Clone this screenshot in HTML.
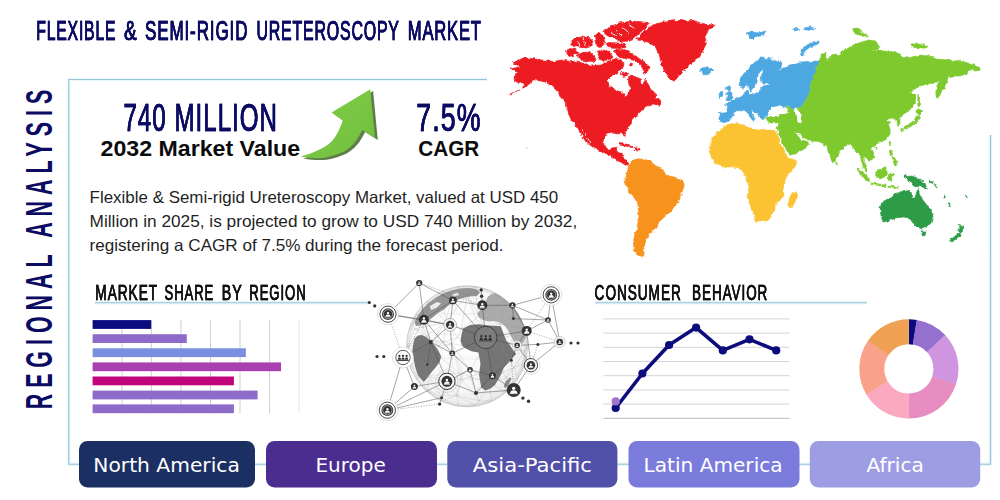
<!DOCTYPE html>
<html lang="en">
<head>
<meta charset="utf-8">
<title>Flexible &amp; Semi-rigid Ureteroscopy Market</title>
<style>
html,body{margin:0;padding:0;background:#fff;}
body{width:1000px;height:500px;overflow:hidden;position:relative;font-family:"Liberation Sans",sans-serif;}
svg{position:absolute;left:0;top:0;display:block;}
.cond{font-family:"Liberation Sans",sans-serif;}
.btn{font-family:"DejaVu Sans","Liberation Sans",sans-serif;font-size:19.6px;fill:#fff;}
.para{font-family:"Liberation Sans",sans-serif;font-size:16.5px;fill:#1f1f1f;}
.bold{font-family:"Liberation Sans",sans-serif;font-weight:700;fill:#0b0b0b;}
</style>
</head>
<body>
<svg width="1000" height="500" viewBox="0 0 1000 500">

<g fill="none" stroke="#e4f5fb" stroke-width="3.4" opacity="0.8">
<path d="M487,79.5 H68.8 V464.3 H79"/>
<path d="M990.5,135 V464.3 H980"/>
<path d="M255,464.3 H266 M437,464.3 H447 M617,464.3 H629 M799,464.3 H810"/>
<path d="M95,302.7 H368"/>
<path d="M595,302.7 H867"/>
</g>
<g fill="none" stroke="#98c4d8" stroke-width="1.1">
<path d="M487,79.5 H68.8 V464.3 H79"/>
<path d="M990.5,135 V464.3 H980"/>
<path d="M255,464.3 H266 M437,464.3 H447 M617,464.3 H629 M799,464.3 H810"/>
<path d="M95,302.7 H368"/>
<path d="M595,302.7 H867"/>
</g>
<g class="cond" font-size="27.8" fill="#0b0b63" stroke="#0b0b63" stroke-width="0.7" letter-spacing="1.4" style="filter:drop-shadow(0.4px 0 0 #0b0b63)">
<text x="36.3" y="39.8" textLength="80" lengthAdjust="spacingAndGlyphs">FLEXIBLE</text>
<text x="124.1" y="39.8" textLength="13.6" lengthAdjust="spacingAndGlyphs">&amp;</text>
<text x="145" y="39.8" textLength="103.3" lengthAdjust="spacingAndGlyphs">SEMI-RIGID</text>
<text x="256.4" y="39.8" textLength="143.4" lengthAdjust="spacingAndGlyphs">URETEROSCOPY</text>
<text x="407.8" y="39.8" textLength="74" lengthAdjust="spacingAndGlyphs">MARKET</text>
</g>
<text class="cond" transform="translate(52.4,409.3) rotate(-90)" font-size="37.6" font-weight="700" fill="#0b0b63" letter-spacing="10.5" textLength="325.5" lengthAdjust="spacingAndGlyphs" x="0" y="0">REGIONAL ANALYSIS</text>
<text class="cond" x="123.4" y="130.6" font-size="38.3" fill="#0b0b63" stroke="#0b0b63" stroke-width="0.6" letter-spacing="1.6" textLength="154.6" style="filter:drop-shadow(0.5px 0 0 #0b0b63)" lengthAdjust="spacingAndGlyphs">740 MILLION</text>
<text class="bold" x="100.6" y="156.4" font-size="22.5" textLength="199.5" lengthAdjust="spacingAndGlyphs">2032 Market Value</text>
<text class="cond" x="416.3" y="130.6" font-size="38.3" fill="#0b0b63" stroke="#0b0b63" stroke-width="0.6" letter-spacing="1.6" textLength="65.5" style="filter:drop-shadow(0.5px 0 0 #0b0b63)" lengthAdjust="spacingAndGlyphs">7.5%</text>
<text class="bold" x="418.3" y="156.4" font-size="22.5" textLength="61" lengthAdjust="spacingAndGlyphs">CAGR</text>
<g>
<defs><linearGradient id="ag" x1="0" y1="0" x2="1" y2="1"><stop offset="0" stop-color="#82d048"/><stop offset="1" stop-color="#6fbd3c"/></linearGradient></defs>
<path d="M300.6,156.5 C309,154.5 325,148.5 331.8,141.3 C336.5,136 340.5,127.5 342.7,120.4 L331.5,112.4 L370.3,89.2 L375,138 L362.3,130 C360,135 357.5,139 354.3,142.9 C350,148 345.5,151.3 339.8,153.3 C332,156.5 325,158.3 319,158.2 C312,158.2 306,157.6 300.6,156.5 Z" fill="#5f7d4b" transform="translate(2.8,1.9)"/>
<path d="M300.6,156.5 C309,154.5 325,148.5 331.8,141.3 C336.5,136 340.5,127.5 342.7,120.4 L331.5,112.4 L370.3,89.2 L375,138 L362.3,130 C360,135 357.5,139 354.3,142.9 C350,148 345.5,151.3 339.8,153.3 C332,156.5 325,158.3 319,158.2 C312,158.2 306,157.6 300.6,156.5 Z" fill="url(#ag)"/>
</g>
<text class="para" x="89.6" y="202.6" textLength="468.6" lengthAdjust="spacingAndGlyphs">Flexible &amp; Semi-rigid Ureteroscopy Market, valued at USD 450</text>
<text class="para" x="89.6" y="226.8" textLength="487.6" lengthAdjust="spacingAndGlyphs">Million in 2025, is projected to grow to USD 740 Million by 2032,</text>
<text class="para" x="89.6" y="250.8" textLength="414" lengthAdjust="spacingAndGlyphs">registering a CAGR of 7.5% during the forecast period.</text>
<g class="cond" font-size="21.3" fill="#111" stroke="#111" stroke-width="0.5" letter-spacing="1.5" style="filter:drop-shadow(0.35px 0 0 #111)">
<text x="95.3" y="299.5" textLength="62.8" lengthAdjust="spacingAndGlyphs">MARKET</text>
<text x="164.6" y="299.5" textLength="49.6" lengthAdjust="spacingAndGlyphs">SHARE</text>
<text x="221.8" y="299.5" textLength="21" lengthAdjust="spacingAndGlyphs">BY</text>
<text x="249.3" y="299.5" textLength="57.3" lengthAdjust="spacingAndGlyphs">REGION</text>
<text x="594.6" y="299.5" textLength="87.2" lengthAdjust="spacingAndGlyphs">CONSUMER</text>
<text x="692.1" y="299.5" textLength="76.2" lengthAdjust="spacingAndGlyphs">BEHAVIOR</text>
</g>
<g>
<line x1="122" y1="320" x2="122" y2="413.2" stroke="#cfcfd4" stroke-width="1"/>
<line x1="151.4" y1="320" x2="151.4" y2="413.2" stroke="#cfcfd4" stroke-width="1"/>
<line x1="181" y1="320" x2="181" y2="413.2" stroke="#cfcfd4" stroke-width="1"/>
<line x1="210.5" y1="320" x2="210.5" y2="413.2" stroke="#cfcfd4" stroke-width="1"/>
<line x1="240" y1="320" x2="240" y2="413.2" stroke="#cfcfd4" stroke-width="1"/>
<line x1="269.6" y1="320" x2="269.6" y2="413.2" stroke="#cfcfd4" stroke-width="1"/>
<line x1="299" y1="320" x2="299" y2="413.2" stroke="#e6e6ea" stroke-width="1"/>
<rect x="92.6" y="320.1" width="58.6" height="8.8" fill="#0b0b80"/>
<rect x="92.6" y="334.2" width="94.2" height="8.8" fill="#8e6bc9"/>
<rect x="92.6" y="348.3" width="153.3" height="8.8" fill="#7b8fe0"/>
<rect x="92.6" y="362.4" width="188.4" height="8.8" fill="#a940b0"/>
<rect x="92.6" y="376.5" width="141.3" height="8.8" fill="#c0047a"/>
<rect x="92.6" y="390.6" width="165.0" height="8.8" fill="#8e6bc9"/>
<rect x="92.6" y="404.4" width="141.3" height="8.8" fill="#8e6bc9"/>
</g>
<g>
<line x1="603.4" y1="318.9" x2="789.4" y2="318.9" stroke="#d4d4d8" stroke-width="1"/>
<line x1="603.4" y1="333.1" x2="789.4" y2="333.1" stroke="#d4d4d8" stroke-width="1"/>
<line x1="603.4" y1="347.3" x2="789.4" y2="347.3" stroke="#d4d4d8" stroke-width="1"/>
<line x1="603.4" y1="361.5" x2="789.4" y2="361.5" stroke="#d4d4d8" stroke-width="1"/>
<line x1="603.4" y1="375.7" x2="789.4" y2="375.7" stroke="#d4d4d8" stroke-width="1"/>
<line x1="603.4" y1="389.9" x2="789.4" y2="389.9" stroke="#d4d4d8" stroke-width="1"/>
<line x1="603.4" y1="404.1" x2="789.4" y2="404.1" stroke="#d4d4d8" stroke-width="1"/>
<line x1="603.4" y1="418.3" x2="789.4" y2="418.3" stroke="#b9b9bf" stroke-width="1"/>
<polyline points="615.7,408 642.4,373.5 669.1,345 696.1,327.6 722.8,350.4 749.5,339.3 776.2,350.4" fill="none" stroke="#0c0c7c" stroke-width="3.6" stroke-linejoin="round" stroke-linecap="round"/>
<circle cx="615.7" cy="408" r="4.1" fill="#0c0c7c"/>
<circle cx="642.4" cy="373.5" r="4.1" fill="#0c0c7c"/>
<circle cx="669.1" cy="345" r="4.1" fill="#0c0c7c"/>
<circle cx="696.1" cy="327.6" r="4.1" fill="#0c0c7c"/>
<circle cx="722.8" cy="350.4" r="4.1" fill="#0c0c7c"/>
<circle cx="749.5" cy="339.3" r="4.1" fill="#0c0c7c"/>
<circle cx="776.2" cy="350.4" r="4.1" fill="#0c0c7c"/>
<circle cx="615.7" cy="401.4" r="4.1" fill="#a274c9"/>
</g>
<g>
<path d="M908.90,319.30 A49.6,49.6 0 0 1 917.00,319.97 L912.92,344.63 A24.6,24.6 0 0 0 908.90,344.30 Z" fill="#0b0b80"/>
<path d="M916.66,319.91 A49.6,49.6 0 0 1 945.41,335.33 L927.01,352.25 A24.6,24.6 0 0 0 912.75,344.60 Z" fill="#9670cf"/>
<path d="M945.18,335.07 A49.6,49.6 0 0 1 955.96,384.56 L932.24,376.66 A24.6,24.6 0 0 0 926.89,352.12 Z" fill="#d095e1"/>
<path d="M956.07,384.23 A49.6,49.6 0 0 1 908.55,418.50 L908.73,393.50 A24.6,24.6 0 0 0 932.30,376.50 Z" fill="#e88dc1"/>
<path d="M908.90,418.50 A49.6,49.6 0 0 1 866.21,394.15 L887.73,381.42 A24.6,24.6 0 0 0 908.90,393.50 Z" fill="#fba9c0"/>
<path d="M866.38,394.45 A49.6,49.6 0 0 1 868.22,340.52 L888.72,354.83 A24.6,24.6 0 0 0 887.81,381.57 Z" fill="#f9a18b"/>
<path d="M868.02,340.81 A49.6,49.6 0 0 1 908.90,319.30 L908.90,344.30 A24.6,24.6 0 0 0 888.63,354.97 Z" fill="#f0a052"/>
</g>
<rect x="79" y="441" width="176.0" height="46.4" rx="8.5" ry="8.5" fill="#1c2f62"/>
<text class="btn" x="93.3" y="472" textLength="146.5" lengthAdjust="spacingAndGlyphs">North America</text>
<rect x="266" y="441" width="171.0" height="46.4" rx="8.5" ry="8.5" fill="#4b2d90"/>
<text class="btn" x="315.4" y="472" textLength="70.4" lengthAdjust="spacingAndGlyphs">Europe</text>
<rect x="447.3" y="441" width="170.1" height="46.4" rx="8.5" ry="8.5" fill="#5150a8"/>
<text class="btn" x="472.8" y="472" textLength="119.2" lengthAdjust="spacingAndGlyphs">Asia-Pacific</text>
<rect x="628.5" y="441" width="171.0" height="46.4" rx="8.5" ry="8.5" fill="#7b7bdc"/>
<text class="btn" x="643.6" y="472" textLength="139" lengthAdjust="spacingAndGlyphs">Latin America</text>
<rect x="809.8" y="441" width="170.4" height="46.4" rx="8.5" ry="8.5" fill="#9d9de4"/>
<text class="btn" x="866.4" y="472" textLength="57.4" lengthAdjust="spacingAndGlyphs">Africa</text>
<defs><filter id="rough" x="-2%" y="-2%" width="104%" height="104%"><feTurbulence type="fractalNoise" baseFrequency="0.22" numOctaves="3" seed="4" result="n"/><feDisplacementMap in="SourceGraphic" in2="n" scale="4" xChannelSelector="R" yChannelSelector="G"/></filter></defs>
<g id="worldmap" filter="url(#rough)">
<!-- North America -->
<path d="M511.0,69.0 L515.5,67.8 L520.0,66.2 L516.0,64.5 L513.0,63.0 L517.0,60.5 L521.0,58.5 L525.0,57.5 L535.0,59.0 L545.0,60.5 L554.0,61.5 L559.0,60.3 L564.0,60.0 L570.0,61.5 L580.0,62.5 L587.0,64.0 L590.0,66.0 L596.0,65.5 L600.0,65.0 L604.0,63.0 L610.0,60.5 L616.0,58.5 L621.0,59.5 L623.0,63.0 L622.5,68.0 L620.0,71.0 L617.0,73.0 L612.0,74.5 L609.0,78.0 L607.0,82.0 L610.0,87.0 L618.0,91.0 L623.0,93.0 L625.0,97.0 L628.0,95.0 L628.0,92.0 L631.0,88.0 L629.0,84.0 L628.0,79.0 L629.0,76.5 L632.0,75.5 L636.0,77.0 L640.0,79.0 L641.0,83.0 L644.0,84.5 L645.0,79.0 L648.0,84.0 L652.0,90.0 L657.0,95.0 L655.0,99.0 L660.0,105.0 L652.0,104.0 L645.0,107.5 L638.5,113.5 L631.0,123.0 L626.0,129.5 L625.0,137.5 L621.5,132.5 L615.0,133.0 L607.0,134.0 L603.0,139.0 L604.0,145.0 L609.0,150.5 L612.0,148.0 L616.5,147.0 L616.0,151.0 L622.0,152.5 L623.0,157.0 L627.0,161.0 L629.0,164.0 L626.0,165.5 L622.0,163.0 L617.0,160.5 L611.0,156.5 L604.0,152.5 L594.0,148.0 L586.0,142.0 L577.0,128.0 L569.0,116.0 L566.0,102.0 L560.0,95.5 L557.0,91.0 L552.0,86.0 L545.0,82.0 L536.0,80.0 L533.0,80.0 L530.0,83.5 L527.0,86.0 L524.0,87.6 L522.5,87.0 L525.0,85.0 L520.0,83.0 L515.0,81.0 L514.0,77.0 L516.0,74.5 L518.0,72.5 L514.0,70.5Z M604.0,31.0 L609.0,27.5 L614.0,25.0 L619.0,23.0 L625.0,22.0 L632.0,21.3 L640.0,21.5 L648.0,22.5 L649.5,24.0 L646.0,27.0 L643.0,30.0 L639.5,33.0 L636.0,36.5 L633.0,39.5 L630.0,41.0 L624.0,41.5 L620.0,41.0 L616.0,39.5 L612.0,37.5 L608.0,36.0 L605.0,34.0Z M594.5,36.0 L598.0,33.5 L602.0,34.0 L604.0,38.0 L604.5,43.0 L603.0,47.0 L599.0,47.5 L596.0,45.0 L595.0,40.0Z M605.5,43.5 L610.0,42.5 L616.0,42.8 L622.0,43.5 L626.0,45.0 L625.5,47.5 L620.0,48.5 L613.0,48.3 L607.0,47.5Z M566.5,50.5 L570.0,48.5 L576.0,49.5 L578.0,52.0 L574.5,55.5 L569.0,56.5 L567.0,53.5Z M577.0,54.5 L583.0,52.5 L590.0,52.0 L593.0,55.0 L596.0,59.0 L594.0,61.5 L588.0,61.2 L582.0,60.2 L578.0,57.5Z M570.0,42.5 L573.0,39.5 L578.0,37.5 L584.0,36.5 L588.0,37.5 L592.0,40.0 L593.5,44.0 L591.0,47.0 L586.0,48.0 L580.0,47.5 L575.0,46.5 L571.0,45.0Z M597.0,51.5 L601.0,50.0 L606.0,50.5 L610.0,51.5 L612.0,55.0 L611.5,58.0 L608.0,60.0 L603.0,60.5 L599.0,59.0 L597.5,55.0Z M614.0,50.5 L619.0,49.0 L625.0,50.0 L630.0,52.5 L636.0,56.0 L641.0,60.0 L646.0,63.5 L650.0,67.0 L649.0,69.5 L646.0,73.0 L643.5,73.0 L642.0,67.0 L636.0,61.0 L630.0,59.5 L624.0,58.5 L619.0,57.0 L615.5,54.0Z M621.0,72.5 L626.0,72.0 L628.0,74.5 L624.0,76.5 L620.5,75.0Z M630.0,63.0 L632.5,63.5 L632.0,66.0 L629.5,65.5Z M655.0,99.0 L659.0,98.5 L661.0,102.0 L660.0,105.0 L656.0,104.0Z M620.0,143.6 L626.0,144.0 L632.0,146.5 L632.0,147.6 L625.0,146.0 L620.0,145.0Z M634.0,147.5 L640.0,148.5 L640.0,150.0 L634.0,149.5Z M636.8,38.8 L644.0,30.8 L652.0,25.2 L663.2,22.0 L676.0,20.4 L692.0,20.4 L703.2,23.6 L715.2,25.2 L708.0,30.8 L704.8,37.2 L706.4,43.6 L703.2,50.0 L700.0,56.4 L692.0,62.8 L685.6,69.2 L679.2,75.6 L674.4,81.2 L669.6,78.8 L664.8,72.4 L661.6,64.4 L659.2,54.8 L655.2,46.8 L648.8,42.0 L642.4,41.2Z" fill="#ec1c24" stroke="#ec1c24" stroke-width="0.6" stroke-linejoin="round"/>
<!-- South America -->
<path d="M629.0,164.0 L634.0,159.6 L642.0,159.0 L650.0,161.0 L656.0,166.0 L663.0,170.0 L666.0,175.0 L674.0,177.0 L682.0,180.0 L685.0,184.0 L682.0,192.0 L679.0,200.0 L674.0,208.0 L668.0,214.0 L662.0,219.0 L657.0,224.0 L654.5,230.0 L649.0,234.5 L646.0,241.0 L643.0,249.0 L644.0,256.0 L638.0,255.5 L633.5,250.0 L633.5,240.0 L636.5,230.0 L639.0,216.0 L638.0,204.0 L633.0,196.0 L627.0,188.0 L625.0,180.0 L627.0,172.0Z" fill="#f7921e" stroke="#f7921e" stroke-width="0.6" stroke-linejoin="round"/>
<!-- Africa -->
<path d="M720.0,129.0 L730.0,124.0 L742.0,123.6 L750.0,128.0 L758.0,130.0 L766.0,129.0 L776.0,131.0 L779.0,140.0 L783.0,150.0 L788.0,158.0 L798.0,161.0 L794.0,168.0 L786.0,178.0 L783.0,188.0 L784.0,196.0 L777.0,202.0 L775.0,208.0 L771.0,217.0 L766.0,221.0 L756.0,221.0 L751.0,208.0 L747.0,196.0 L749.0,189.0 L747.0,180.0 L743.0,170.0 L734.0,167.0 L722.0,167.0 L714.0,162.0 L709.0,152.0 L710.0,144.0 L714.0,136.0Z M796.0,191.0 L797.0,196.0 L794.0,204.0 L791.0,208.0 L788.6,205.0 L789.6,197.0 L793.0,193.0Z" fill="#fbc233" stroke="#fbc233" stroke-width="0.6" stroke-linejoin="round"/>
<!-- Europe -->
<path d="M760.0,58.0 L770.0,58.5 L782.0,63.0 L781.0,68.0 L778.0,70.0 L784.0,68.0 L790.0,66.0 L802.0,62.0 L814.0,61.0 L820.0,61.0 L816.0,70.0 L812.0,80.0 L810.0,90.0 L807.0,99.0 L801.0,107.0 L793.0,109.0 L786.0,107.0 L778.0,106.0 L772.0,107.0 L769.0,110.0 L768.0,114.0 L766.0,117.0 L764.0,117.5 L763.0,120.0 L760.0,117.0 L758.0,113.0 L755.0,112.5 L750.0,110.5 L753.0,115.0 L755.0,119.5 L754.0,121.5 L751.5,119.0 L749.0,114.5 L746.0,111.5 L744.0,110.0 L738.0,112.0 L734.4,111.5 L733.0,116.0 L730.0,120.0 L724.0,123.0 L720.0,121.0 L719.0,113.6 L726.0,112.5 L727.0,109.0 L729.0,106.0 L724.5,104.5 L729.0,102.5 L734.0,100.0 L739.0,97.0 L744.0,95.0 L746.0,91.0 L748.0,89.5 L749.0,94.0 L752.0,94.5 L758.0,93.0 L761.0,90.0 L763.0,86.0 L770.0,84.5 L770.0,83.0 L762.0,83.0 L761.0,78.0 L763.0,72.0 L763.0,68.0 L760.0,71.0 L757.0,76.0 L756.0,82.0 L754.0,88.0 L751.0,92.0 L749.5,89.0 L748.0,84.0 L746.0,86.0 L742.0,88.0 L739.0,84.0 L741.0,77.0 L747.0,70.0 L754.0,63.0Z M729.0,85.0 L731.0,87.0 L729.5,91.0 L732.0,94.0 L733.0,98.0 L731.0,100.0 L726.0,100.5 L728.0,97.0 L726.5,94.0 L728.0,91.0 L726.0,88.0Z M719.0,93.0 L722.5,92.0 L723.0,96.0 L719.5,97.5Z M700.0,69.0 L704.0,67.6 L710.0,68.0 L712.8,70.5 L709.0,73.5 L703.0,74.0 L700.5,71.5Z M746.0,33.0 L752.0,31.5 L758.0,33.0 L766.0,31.0 L764.0,35.5 L757.0,36.5 L754.0,40.0 L749.0,38.0Z M792.0,29.0 L798.0,28.0 L800.0,30.0 L794.0,31.0Z M804.0,28.0 L810.0,27.0 L816.0,28.5 L808.0,30.5Z M820.0,41.0 L818.0,44.0 L810.0,47.0 L804.0,52.0 L803.0,56.0 L800.5,55.0 L801.0,50.5 L807.0,45.0 L814.0,41.5Z" fill="#4da7e1" stroke="#4da7e1" stroke-width="0.6" stroke-linejoin="round"/>
<!-- Asia -->
<path d="M820.0,61.0 L820.0,55.0 L825.0,52.0 L826.5,60.0 L828.5,61.0 L830.0,56.0 L835.0,53.0 L839.0,56.0 L846.0,48.0 L858.0,43.0 L868.0,40.0 L876.0,41.0 L880.0,45.0 L879.0,49.0 L872.0,51.0 L884.0,51.0 L894.0,52.0 L900.0,54.0 L904.0,58.0 L912.0,57.0 L920.0,55.0 L928.0,56.0 L936.0,59.0 L948.0,60.0 L958.0,61.0 L968.0,63.0 L976.0,66.0 L980.0,69.0 L976.0,71.0 L970.0,70.0 L966.0,74.0 L960.0,76.0 L952.0,76.0 L948.0,77.5 L946.5,83.0 L943.0,90.0 L939.5,96.0 L937.0,98.5 L935.8,94.0 L936.2,88.0 L938.0,83.0 L939.5,80.0 L936.0,82.0 L928.0,84.0 L920.0,86.0 L913.0,90.0 L910.0,92.0 L915.4,94.4 L915.4,103.4 L910.0,110.6 L904.6,114.0 L900.0,117.8 L900.0,121.0 L900.0,125.0 L897.5,125.0 L896.0,121.0 L895.6,119.6 L893.0,118.0 L888.4,118.7 L886.6,122.3 L891.0,122.3 L889.3,126.8 L890.2,132.2 L888.6,136.5 L886.0,139.0 L882.6,141.2 L877.0,143.8 L874.2,145.9 L871.4,146.6 L870.7,149.4 L873.5,152.9 L873.8,157.8 L870.0,161.3 L865.8,157.8 L863.5,156.4 L863.3,160.6 L865.4,166.2 L867.5,171.0 L866.4,171.9 L863.4,167.0 L861.3,160.6 L860.6,157.8 L859.5,152.9 L856.0,152.2 L853.9,148.0 L850.4,143.8 L846.2,145.9 L840.6,150.8 L836.4,157.8 L834.6,161.3 L832.9,162.4 L831.0,158.5 L828.7,153.6 L826.8,146.0 L824.5,146.2 L822.5,143.5 L818.4,141.6 L810.4,140.8 L804.0,137.6 L797.6,133.6 L794.4,132.0 L797.6,136.0 L802.4,140.0 L806.4,141.6 L808.8,144.0 L804.0,148.8 L796.0,153.6 L789.6,155.2 L784.8,147.2 L780.0,137.6 L776.8,126.4 L778.5,124.0 L780.0,121.5 L777.0,123.0 L772.0,123.0 L767.0,121.6 L766.0,117.6 L770.0,116.5 L778.0,116.0 L786.0,114.0 L790.0,112.5 L788.0,109.5 L786.0,107.5 L793.0,109.0 L801.0,107.0 L807.0,99.0 L810.0,90.0 L812.0,80.0 L816.0,70.0Z M852.0,29.0 L857.0,28.0 L862.0,32.0 L868.0,35.0 L866.0,37.5 L860.0,35.0 L854.0,32.0Z M911.0,44.0 L917.0,43.0 L922.0,45.0 L928.0,46.5 L926.0,48.0 L918.0,48.0 L912.0,47.0Z M918.0,94.0 L919.5,98.0 L919.5,106.0 L918.0,107.0 L917.5,100.0Z M916.0,110.0 L919.0,109.5 L921.5,111.5 L919.0,114.0 L916.5,113.0Z M918.0,115.0 L920.0,117.0 L918.5,121.0 L914.0,125.0 L909.0,127.0 L904.0,129.0 L903.0,127.5 L908.0,125.0 L913.0,122.0 L916.5,118.5Z M901.0,128.5 L903.5,129.0 L903.0,132.0 L901.0,131.5Z M889.5,141.0 L891.0,142.0 L890.0,146.0 L889.0,144.0Z M889.5,150.5 L892.0,150.0 L893.0,154.0 L891.0,156.0 L889.5,154.0Z M892.0,157.0 L895.0,158.0 L897.0,162.0 L896.0,165.5 L893.0,164.0 L893.5,161.0Z M857.0,168.0 L860.0,169.0 L866.0,175.0 L870.0,180.0 L869.0,182.0 L864.0,178.0 L859.0,172.0Z M871.0,183.0 L878.0,183.8 L886.0,185.0 L886.0,186.5 L878.0,185.6 L871.0,184.6Z M888.0,186.0 L893.0,186.5 L898.0,186.5 L898.0,187.8 L888.0,187.5Z M885.0,166.0 L887.0,170.0 L887.0,174.0 L884.0,177.5 L880.0,179.0 L877.0,177.0 L875.0,173.0 L878.0,170.0 L881.5,169.0Z M888.5,173.5 L893.0,173.0 L893.5,174.5 L890.5,176.0 L893.0,179.0 L892.0,182.0 L890.0,179.5 L888.5,181.0 L888.0,177.0Z M835.7,162.6 L837.8,162.9 L838.5,165.0 L836.8,165.8 L835.8,164.2Z M875.0,147.3 L877.0,147.5 L876.8,149.4 L875.2,149.2Z" fill="#7eca2d" stroke="#7eca2d" stroke-width="0.6" stroke-linejoin="round"/>
<!-- Oceania -->
<path d="M880.0,208.0 L882.0,202.0 L890.0,198.0 L894.0,194.0 L900.0,192.0 L904.0,190.5 L908.0,190.0 L911.0,193.0 L912.0,197.0 L915.0,197.0 L917.0,190.0 L918.5,189.0 L920.0,196.0 L926.0,204.0 L931.0,210.0 L933.0,216.0 L931.0,223.0 L927.0,227.0 L922.0,229.0 L917.0,227.0 L913.0,223.0 L910.0,219.0 L904.0,217.0 L896.0,218.0 L888.0,221.0 L883.0,222.0 L881.0,216.0Z M921.0,231.0 L926.0,231.0 L925.0,235.5 L922.5,236.0Z M903.5,175.0 L906.0,174.5 L908.0,176.5 L911.0,176.0 L915.0,177.0 L920.0,179.5 L923.5,182.5 L925.0,185.0 L928.5,188.5 L925.0,188.0 L921.0,186.5 L917.0,186.8 L913.5,186.0 L911.5,183.0 L908.5,181.5 L906.5,178.5 L904.0,177.5Z M958.0,223.0 L960.0,226.0 L965.0,227.0 L962.0,230.0 L960.5,233.0 L958.5,231.5 L960.0,228.0Z M959.0,233.0 L960.5,235.0 L956.0,239.0 L951.0,242.0 L949.5,240.5 L954.0,237.0Z M929.0,181.0 L933.0,182.0 L932.5,183.5 L929.5,182.5Z M948.0,203.0 L949.5,203.0 L951.5,205.5 L950.0,205.5Z M965.3,196.0 L966.8,196.0 L966.8,197.3 L965.3,197.3Z M944.0,195.4 L945.1,195.4 L945.3,197.0 L944.2,197.0Z M934.0,184.6 L935.6,185.4 L937.4,186.8 L936.6,187.4 L934.4,185.8Z" fill="#2e9b47" stroke="#2e9b47" stroke-width="0.6" stroke-linejoin="round"/>
<path id="aleutian" d="M524,87.3 L517,91 L509,94.6" stroke="#e3222b" stroke-width="0.9" fill="none" stroke-linecap="round"/>
<path id="hawaii" d="M526.2,147.2 L527.2,147.4 L527.3,148.5 L526.3,148.3Z M523.4,145.6 L524,145.8 L523.9,146.3Z" fill="#7d5a5e" opacity="0.75"/>
<path id="gulfcal" d="M582.3,129.5 L586.5,136.5 L590.8,143.2" stroke="#fff" stroke-width="0.9" fill="none"/>
<path d="M795.0,107.5 L799.0,109.0 L800.5,114.0 L802.0,119.0 L801.0,123.0 L797.5,122.5 L797.0,117.0 L795.5,113.0 L794.0,110.0Z" fill="#fff" />
<path d="M615,30 L622,36 M622,27 L630,33.5 M629,24.5 L635,29 M611,33 L617,35.5 M583,38 L585,46 M577.5,41 L579,47" stroke="#fff" stroke-width="0.9" fill="none"/>
</g>
<g id="globe">
<defs><radialGradient id="gsh" cx="0.42" cy="0.4" r="0.65"><stop offset="0" stop-color="#ffffff"/><stop offset="0.7" stop-color="#f7f7f7"/><stop offset="1" stop-color="#ebebeb"/></radialGradient><clipPath id="gclip"><circle cx="467.0" cy="346.3" r="60.5"/></clipPath></defs>
<circle cx="467.0" cy="346.3" r="60.5" fill="url(#gsh)" stroke="#bdbdbd" stroke-width="0.7"/>
<circle cx="467.0" cy="346.3" r="58.3" fill="none" stroke="#cfcfcf" stroke-width="0.5"/>
<g clip-path="url(#gclip)" fill="none" stroke="#bcbcbc" stroke-width="0.35" stroke-dasharray="0.8 1.2">
<ellipse cx="467.0" cy="346.3" rx="15.1" ry="60.5"/>
<ellipse cx="467.0" cy="346.3" rx="30.2" ry="60.5"/>
<ellipse cx="467.0" cy="346.3" rx="45.4" ry="60.5"/>
<ellipse cx="467.0" cy="346.3" rx="57.5" ry="60.5"/>
<ellipse cx="467.0" cy="306.3" rx="45.4" ry="8"/>
<ellipse cx="467.0" cy="324.3" rx="56.4" ry="11"/>
<ellipse cx="467.0" cy="346.3" rx="60.5" ry="13"/>
<ellipse cx="467.0" cy="368.3" rx="56.4" ry="11"/>
<ellipse cx="467.0" cy="386.3" rx="45.4" ry="8"/>
</g>
<g clip-path="url(#gclip)">
<path d="M414.5,322.0 L418.0,315.0 L423.0,308.5 L429.0,302.5 L436.0,297.5 L443.0,293.5 L451.0,290.5 L460.0,288.5 L469.0,288.0 L477.0,289.5 L480.0,292.5 L477.0,296.0 L470.0,296.5 L462.0,298.0 L455.0,301.0 L449.0,305.0 L444.0,309.5 L438.0,313.0 L432.0,318.0 L426.0,322.5 L420.0,325.5 L416.0,326.0Z" fill="#8a8a8a" opacity="0.9"/>
<path d="M478.4,317.0 L477.5,313.0 L481.0,309.5 L484.0,306.0 L486.0,301.0 L488.0,296.5 L493.0,293.5 L498.0,292.5 L503.0,294.0 L509.0,297.5 L515.0,302.0 L519.5,307.5 L523.2,313.0 L526.0,320.0 L527.5,328.0 L526.5,336.0 L523.0,343.0 L519.0,347.0 L515.5,344.0 L512.0,338.0 L508.5,331.0 L505.0,326.0 L500.0,322.5 L494.0,321.0 L488.0,321.5 L483.0,320.0Z" fill="#a2a2a2" opacity="0.9"/>
<path d="M413.5,343.0 L414.5,338.5 L418.0,335.5 L422.0,335.0 L426.0,337.0 L430.0,340.0 L434.0,344.5 L438.0,350.0 L441.3,356.5 L439.5,362.0 L436.4,366.6 L432.0,371.5 L429.4,375.0 L426.0,379.5 L423.8,382.0 L421.0,379.0 L418.5,376.0 L416.8,372.2 L415.0,366.0 L414.0,361.0 L412.8,355.0 L412.4,349.8Z" fill="#757575" opacity="1"/>
<path d="M461.6,334.0 L463.0,328.4 L470.0,324.9 L478.4,324.2 L489.6,325.6 L500.8,326.3 L503.6,334.0 L506.4,341.0 L508.5,343.0 L512.0,348.4 L516.2,354.0 L510.6,359.6 L503.6,368.0 L500.8,375.0 L495.2,384.8 L491.0,388.3 L485.4,390.4 L481.2,387.6 L479.1,375.0 L480.5,363.8 L478.4,352.6 L471.4,351.2 L465.8,348.4 L462.3,346.0 L460.5,341.0Z" fill="#747474" opacity="1"/>
<path d="M503.6,386.5 L506.0,381.0 L510.0,377.5 L511.5,378.5 L509.0,384.0 L505.5,388.0Z" fill="#8a8a8a" opacity="1"/>
<path d="M479,321.5 L486,322.6 L494,322 L501,324 L504,326.5 L498,325 L489,324.2 L480,323.2Z" fill="#f2f2f2"/>
<path d="M430,306 L437,302 L441,303.5 L436,308 L431,310Z M452,294 L458,292.5 L459,295 L453,297Z" fill="#eeeeee"/>
</g>
<path d="M423.1,327.4 L416.6,313.9 M416.6,313.9 L427.8,301.0 M423.1,327.4 L427.8,301.0 M442.1,291.8 L445.8,322.2 M445.8,322.2 L427.8,301.0 M442.1,291.8 L427.8,301.0 M445.8,322.2 L423.1,327.4 M478.2,314.2 L491.9,291.8 M491.9,291.8 L506.2,301.0 M478.2,314.2 L506.2,301.0 M478.2,314.2 L475.5,287.0 M491.9,291.8 L475.5,287.0 M524.5,363.2 L524.8,351.0 M524.8,351.0 L526.9,346.3 M524.5,363.2 L526.9,346.3 M458.5,405.6 L456.5,395.5 M456.5,395.5 L475.5,405.6 M458.5,405.6 L475.5,405.6 M458.5,405.6 L442.1,400.8 M456.5,395.5 L442.1,400.8 M409.5,363.2 L417.7,371.6 M417.7,371.6 L416.6,378.7 M409.5,363.2 L416.6,378.7 M479.2,400.8 L491.9,400.8 M491.9,400.8 L475.5,405.6 M479.2,400.8 L475.5,405.6 M456.5,395.5 L479.2,400.8 M499.5,323.8 L517.4,313.9 M517.4,313.9 L524.5,329.4 M499.5,323.8 L524.5,329.4 M499.5,323.8 L506.2,301.0 M517.4,313.9 L506.2,301.0 M499.5,323.8 L478.2,314.2 M409.5,329.4 L414.9,329.0 M414.9,329.0 L407.1,346.3 M409.5,329.4 L407.1,346.3 M445.8,322.2 L461.3,328.5 M461.3,328.5 L457.6,337.4 M445.8,322.2 L457.6,337.4 M461.3,328.5 L483.3,349.1 M483.3,349.1 L457.6,337.4 M478.2,314.2 L467.1,294.5 M467.1,294.5 L475.5,287.0 M467.1,294.5 L461.3,328.5 M467.1,294.5 L445.8,322.2 M441.4,395.9 L442.1,400.8 M442.1,400.8 L427.8,391.6 M441.4,395.9 L427.8,391.6 M441.4,395.9 L456.5,395.5 M445.8,322.2 L426.5,336.0 M426.5,336.0 L423.1,327.4 M414.9,329.0 L426.5,336.0 M426.5,336.0 L407.1,346.3 M414.9,329.0 L423.1,327.4 M483.3,349.1 L451.6,343.6 M451.6,343.6 L457.6,337.4 M441.4,395.9 L450.8,387.2 M450.8,387.2 L456.5,395.5 M499.5,323.8 L486.0,330.6 M486.0,330.6 L478.2,314.2 M461.3,328.5 L486.0,330.6 M486.0,330.6 L483.3,349.1 M423.1,327.4 L412.9,323.2 M412.9,323.2 L416.6,313.9 M414.9,329.0 L412.9,323.2 M412.9,323.2 L409.5,329.4 M416.6,313.9 L409.5,329.4 M475.5,287.0 L462.5,292.5 M462.5,292.5 L458.5,287.0 M475.5,287.0 L458.5,287.0 M467.1,294.5 L462.5,292.5 M505.9,377.8 L517.4,378.7 M517.4,378.7 L506.2,391.6 M505.9,377.8 L506.2,391.6 M517.4,378.7 L513.9,367.5 M513.9,367.5 L524.5,363.2 M517.4,378.7 L524.5,363.2 M513.9,367.5 L524.8,351.0 M505.9,377.8 L513.9,367.5 M505.9,377.8 L502.9,372.6 M513.9,367.5 L502.9,372.6 M426.5,336.0 L431.3,345.2 M431.3,345.2 L407.1,346.3 M428.3,375.5 L441.4,395.9 M428.3,375.5 L427.8,391.6 M428.3,375.5 L450.8,387.2 M416.6,378.7 L428.3,375.5 M416.6,378.7 L427.8,391.6 M417.7,371.6 L428.3,375.5 M486.0,330.6 L475.8,319.2 M475.8,319.2 L478.2,314.2 M475.8,319.2 L461.3,328.5 M475.8,319.2 L467.1,294.5 M452.6,293.8 L442.1,291.8 M442.1,291.8 L458.5,287.0 M452.6,293.8 L458.5,287.0 M462.5,292.5 L452.6,293.8 M452.6,293.8 L445.8,322.2 M452.6,293.8 L467.1,294.5 M505.9,377.8 L488.7,383.1 M488.7,383.1 L502.9,372.6 M491.9,400.8 L488.7,383.1 M488.7,383.1 L506.2,391.6 M491.9,400.8 L506.2,391.6 M479.2,400.8 L488.7,383.1 M469.8,376.6 L488.7,383.1 M469.8,376.6 L479.2,400.8 M513.9,367.5 L502.9,349.0 M502.9,349.0 L524.8,351.0 M502.9,349.0 L502.9,372.6 M502.9,372.6 L483.3,349.1 M502.9,349.0 L483.3,349.1 M432.3,340.5 L426.5,336.0 M432.3,340.5 L445.8,322.2 M432.3,340.5 L431.3,345.2 M502.9,372.6 L479.1,373.9 M479.1,373.9 L483.3,349.1 M488.7,383.1 L479.1,373.9 M479.1,373.9 L469.8,376.6 M524.8,351.0 L509.2,343.0 M509.2,343.0 L526.9,346.3 M502.9,349.0 L509.2,343.0 M509.2,343.0 L524.5,329.4 M524.5,329.4 L526.9,346.3 M496.3,344.6 L502.9,349.0 M496.3,344.6 L483.3,349.1 M462.2,380.0 L462.1,372.8 M462.1,372.8 L469.8,376.6 M462.2,380.0 L469.8,376.6 M462.2,380.0 L479.2,400.8 M462.2,380.0 L456.5,395.5 M434.4,352.2 L459.5,373.3 M459.5,373.3 L428.3,375.5 M434.4,352.2 L428.3,375.5 M459.5,373.3 L450.8,387.2 M462.1,372.8 L459.5,373.3 M459.5,373.3 L451.6,343.6 M462.1,372.8 L451.6,343.6 M434.4,352.2 L451.6,343.6 M424.3,365.5 L428.3,375.5 M424.3,365.5 L417.7,371.6 M424.3,365.5 L434.4,352.2 M424.3,365.5 L409.5,363.2 M424.3,365.5 L431.3,345.2 M434.4,352.2 L431.3,345.2 M409.5,363.2 L407.1,346.3 M424.3,365.5 L407.1,346.3 M462.1,372.8 L469.9,370.0 M469.9,370.0 L469.8,376.6 M469.9,370.0 L479.1,373.9 M469.9,370.0 L483.3,349.1 M469.9,370.0 L451.6,343.6 M504.9,337.6 L499.5,323.8 M504.9,337.6 L524.5,329.4 M509.2,343.0 L504.9,337.6 M504.9,337.6 L486.0,330.6 M504.9,337.6 L496.3,344.6 M496.3,344.6 L486.0,330.6 M504.9,337.6 L502.9,349.0 M486.0,330.6 L487.5,342.4 M487.5,342.4 L483.3,349.1 M487.5,342.4 L496.3,344.6 M434.4,352.2 L439.0,346.3 M439.0,346.3 L451.6,343.6 M439.0,346.3 L431.3,345.2 M432.3,340.5 L439.0,346.3 M440.0,343.4 L439.0,346.3 M440.0,343.4 L432.3,340.5 M443.9,341.8 L432.3,340.5 M443.9,341.8 L445.8,322.2 M443.9,341.8 L440.0,343.4 M443.9,341.8 L457.6,337.4 M451.6,343.6 L443.9,341.8 M439.0,346.3 L443.9,341.8 M462.2,380.0 L460.7,379.6 M460.7,379.6 L462.1,372.8 M460.7,379.6 L459.5,373.3 M460.7,379.6 L450.8,387.2 M460.7,379.6 L456.5,395.5" clip-path="url(#gclip)" fill="none" stroke="#8f8f8f" stroke-width="0.28" opacity="0.75"/>
<g fill="none" stroke="#4d4d4d" stroke-width="0.5">
<path d="M419.2,283 L388,314.2 M419.2,283 L423.9,319.7 M419.2,283 L452.9,300.4 M388,314.2 L423.9,319.7 M388,314.2 L450.1,324.9 M423.9,319.7 L452.9,300.4 M423.9,319.7 L450.1,324.9 M423.9,319.7 L430.8,342.1 M452.9,300.4 L450.1,324.9 M452.9,300.4 L482.3,305.3 M450.1,324.9 L485.7,337.5 M450.1,324.9 L452.2,353.3 M450.1,324.9 L430.8,342.1 M482.3,305.3 L512.4,305.3 M482.3,305.3 L485.7,337.5 M482.3,305.3 L481.6,296.2 M481.2,289.9 L481.6,296.2 M512.4,305.3 L551.2,294.8 M512.4,305.3 L526.7,330.9 M512.4,305.3 L513.4,318.6 M551.2,294.8 L548,320 M551.2,294.8 L559.7,342 M548,320 L526.7,330.9 M548,320 L559.7,342 M548,320 L513.4,318.6 M526.7,330.9 L517.1,345.4 M526.7,330.9 L485.7,337.5 M559.7,342 L530.9,365.2 M559.7,342 L537.9,344.4 M517.1,345.4 L537.9,344.4 M485.7,337.5 L452.2,353.3 M485.7,337.5 L492.4,375.7 M485.7,337.5 L517.1,345.4 M403,357.5 L430.8,342.1 M403,357.5 L414.4,386.5 M403,357.5 L387.4,410.2 M452.2,353.3 L446.9,381.3 M452.2,353.3 L470,369.7 M430.8,342.1 L446.9,381.3 M430.8,342.1 L427.3,364.5 M470,369.7 L492.4,375.7 M470,369.7 L446.9,381.3 M470,369.7 L476,392.9 M492.4,375.7 L513.7,390 M492.4,375.7 L476,392.9 M517.1,345.4 L530.9,365.2 M517.1,345.4 L511.3,360.3 M530.9,365.2 L513.7,390 M513.7,390 L476,392.9 M446.9,381.3 L414.4,386.5 M446.9,381.3 L387.4,410.2 M446.9,381.3 L476,392.9 M446.9,381.3 L441.6,397.7 M441.6,397.7 L439.6,404.1 M414.4,386.5 L387.4,410.2 M387.4,410.2 L441.6,397.7 M423.9,319.7 L452.2,353.3 M452.9,300.4 L485.7,337.5 M512.4,305.3 L548,320 M526.7,330.9 L530.9,365.2 M492.4,375.7 L511.3,360.3 M452.2,353.3 L430.8,342.1"/>
<path d="M388,314.2 L403,357.5 M403,357.5 L423.9,319.7 M551.2,294.8 L526.7,330.9 M559.7,342 L526.7,330.9 M387.4,410.2 L439.6,404.1 M513.7,390 L511.3,360.3 M419.2,283 L482.3,305.3 M530.9,365.2 L537.9,344.4 M452.9,300.4 L481.2,289.9" stroke-dasharray="1.2 1.4" stroke="#666"/>
</g>
<circle cx="388" cy="314.2" r="10.6" fill="#fff" stroke="#c4c4c4" stroke-width="0.5"/>
<circle cx="388" cy="314.2" r="8.1" fill="#fff" stroke="#333333" stroke-width="0.9"/>
<circle cx="388" cy="314.2" r="5.9" fill="#333333"/>
<circle cx="388" cy="314.2" r="4.6" fill="none" stroke="#fff" stroke-width="0.5"/>
<circle cx="388.00" cy="313.11" r="1.20" fill="#fff"/><path d="M385.47,316.79 Q385.47,314.49 388.00,314.49 Q390.53,314.49 390.53,316.52 Z" fill="#fff"/><rect x="385.15" y="316.70" width="5.70" height="0.55" fill="#fff"/>
<circle cx="551.2" cy="294.8" r="10.6" fill="#fff" stroke="#c4c4c4" stroke-width="0.5"/>
<circle cx="551.2" cy="294.8" r="8.1" fill="#fff" stroke="#333333" stroke-width="0.9"/>
<circle cx="551.2" cy="294.8" r="5.9" fill="#333333"/>
<circle cx="551.2" cy="294.8" r="4.6" fill="none" stroke="#fff" stroke-width="0.5"/>
<circle cx="551.20" cy="293.71" r="1.20" fill="#fff"/><path d="M548.67,297.39 Q548.67,295.09 551.20,295.09 Q553.73,295.09 553.73,297.12 Z" fill="#fff"/><rect x="548.35" y="297.30" width="5.70" height="0.55" fill="#fff"/>
<circle cx="387.4" cy="410.2" r="10.6" fill="#fff" stroke="#c4c4c4" stroke-width="0.5"/>
<circle cx="387.4" cy="410.2" r="8.1" fill="#fff" stroke="#333333" stroke-width="0.9"/>
<circle cx="387.4" cy="410.2" r="5.9" fill="#333333"/>
<circle cx="387.4" cy="410.2" r="4.6" fill="none" stroke="#fff" stroke-width="0.5"/>
<circle cx="387.40" cy="409.11" r="1.20" fill="#fff"/><path d="M384.87,412.79 Q384.87,410.49 387.40,410.49 Q389.93,410.49 389.93,412.52 Z" fill="#fff"/><rect x="384.55" y="412.70" width="5.70" height="0.55" fill="#fff"/>
<circle cx="446.9" cy="381.3" r="11.2" fill="none" stroke="#bbb" stroke-width="0.5"/>
<circle cx="446.9" cy="381.3" r="8.2" fill="#f4f4f4" stroke="#333333" stroke-width="1"/>
<circle cx="446.9" cy="381.3" r="5.5" fill="#333333"/>
<circle cx="446.90" cy="380.10" r="1.30" fill="#fff"/><path d="M444.15,384.10 Q444.15,381.60 446.90,381.60 Q449.65,381.60 449.65,383.80 Z" fill="#fff"/><rect x="443.80" y="384.00" width="6.20" height="0.60" fill="#fff"/>
<circle cx="530.9" cy="365.2" r="9.2" fill="none" stroke="#c4c4c4" stroke-width="0.5"/>
<circle cx="530.9" cy="365.2" r="6.7" fill="#f6f6f6" stroke="#333333" stroke-width="0.9"/>
<circle cx="530.9" cy="365.2" r="4.3" fill="#333333"/>
<circle cx="530.90" cy="364.28" r="1.04" fill="#fff"/><path d="M528.70,367.48 Q528.70,365.48 530.90,365.48 Q533.10,365.48 533.10,367.24 Z" fill="#fff"/><rect x="528.42" y="367.40" width="4.96" height="0.48" fill="#fff"/>
<circle cx="450.1" cy="324.9" r="6.4" fill="#f4f4f4" stroke="#777" stroke-width="0.5"/>
<circle cx="450.1" cy="324.9" r="4.2" fill="#333333"/>
<circle cx="450.10" cy="324.04" r="0.99" fill="#fff"/><path d="M448.01,327.08 Q448.01,325.18 450.10,325.18 Q452.19,325.18 452.19,326.85 Z" fill="#fff"/><rect x="447.74" y="327.00" width="4.71" height="0.46" fill="#fff"/>
<circle cx="403" cy="357.5" r="10.6" fill="#fff" stroke="#c4c4c4" stroke-width="0.5"/>
<circle cx="403" cy="357.5" r="7.2" fill="#fff" stroke="#333333" stroke-width="0.8"/>
<circle cx="399.40" cy="355.90" r="1.15" fill="#333333"/><path d="M397.70,359.70 Q397.70,357.20 399.40,357.20 Q401.10,357.20 401.10,359.70 Z" fill="#333333"/><circle cx="403.00" cy="355.90" r="1.15" fill="#333333"/><path d="M401.30,359.70 Q401.30,357.20 403.00,357.20 Q404.70,357.20 404.70,359.70 Z" fill="#333333"/><circle cx="406.60" cy="355.90" r="1.15" fill="#333333"/><path d="M404.90,359.70 Q404.90,357.20 406.60,357.20 Q408.30,357.20 408.30,359.70 Z" fill="#333333"/><rect x="397.20" y="360.10" width="11.60" height="0.9" fill="#333333"/>
<circle cx="485.7" cy="337.5" r="11.2" fill="#7d7d7d" stroke="#3a3a3a" stroke-width="0.9"/>
<circle cx="481.30" cy="336.20" r="1.15" fill="#2e2e2e"/><path d="M479.60,340.00 Q479.60,337.50 481.30,337.50 Q483.00,337.50 483.00,340.00 Z" fill="#2e2e2e"/><circle cx="485.70" cy="336.20" r="1.15" fill="#2e2e2e"/><path d="M484.00,340.00 Q484.00,337.50 485.70,337.50 Q487.40,337.50 487.40,340.00 Z" fill="#2e2e2e"/><circle cx="490.10" cy="336.20" r="1.15" fill="#2e2e2e"/><path d="M488.40,340.00 Q488.40,337.50 490.10,337.50 Q491.80,337.50 491.80,340.00 Z" fill="#2e2e2e"/><rect x="479.10" y="340.40" width="13.20" height="0.9" fill="#2e2e2e"/>
<circle cx="559.7" cy="342" r="5.6" fill="#f4f4f4" stroke="#aaa" stroke-width="0.5"/>
<circle cx="517.1" cy="345.4" r="4.6" fill="#f4f4f4" stroke="#aaa" stroke-width="0.5"/>
<circle cx="419.2" cy="283" r="3.1" fill="#333333"/>
<circle cx="419.20" cy="282.30" r="0.74" fill="#fff"/><path d="M417.63,284.58 Q417.63,283.16 419.20,283.16 Q420.77,283.16 420.77,284.41 Z" fill="#fff"/><rect x="417.43" y="284.53" width="3.54" height="0.35" fill="#fff"/>
<circle cx="423.9" cy="319.7" r="5" fill="#333333"/>
<circle cx="423.90" cy="318.51" r="1.20" fill="#fff"/><path d="M421.37,322.19 Q421.37,319.89 423.90,319.89 Q426.43,319.89 426.43,321.92 Z" fill="#fff"/><rect x="421.05" y="322.10" width="5.70" height="0.55" fill="#fff"/>
<circle cx="452.9" cy="300.4" r="3.9" fill="#333333"/>
<circle cx="452.90" cy="299.50" r="0.93" fill="#fff"/><path d="M450.93,302.37 Q450.93,300.57 452.90,300.57 Q454.87,300.57 454.87,302.15 Z" fill="#fff"/><rect x="450.68" y="302.29" width="4.45" height="0.43" fill="#fff"/>
<circle cx="482.3" cy="305.3" r="5" fill="#333333"/>
<circle cx="482.30" cy="304.11" r="1.20" fill="#fff"/><path d="M479.77,307.79 Q479.77,305.49 482.30,305.49 Q484.83,305.49 484.83,307.52 Z" fill="#fff"/><rect x="479.45" y="307.70" width="5.70" height="0.55" fill="#fff"/>
<circle cx="512.4" cy="305.3" r="3.1" fill="#333333"/>
<circle cx="512.40" cy="304.60" r="0.74" fill="#fff"/><path d="M510.83,306.88 Q510.83,305.46 512.40,305.46 Q513.97,305.46 513.97,306.71 Z" fill="#fff"/><rect x="510.63" y="306.83" width="3.54" height="0.35" fill="#fff"/>
<circle cx="548" cy="320" r="2.8" fill="#333333"/>
<circle cx="548.00" cy="319.38" r="0.67" fill="#fff"/><path d="M546.58,321.44 Q546.58,320.15 548.00,320.15 Q549.42,320.15 549.42,321.28 Z" fill="#fff"/><rect x="546.40" y="321.39" width="3.19" height="0.35" fill="#fff"/>
<circle cx="526.7" cy="330.9" r="5" fill="#333333"/>
<circle cx="526.70" cy="329.71" r="1.20" fill="#fff"/><path d="M524.17,333.39 Q524.17,331.09 526.70,331.09 Q529.23,331.09 529.23,333.12 Z" fill="#fff"/><rect x="523.85" y="333.30" width="5.70" height="0.55" fill="#fff"/>
<circle cx="559.7" cy="342" r="3.3" fill="#333333"/>
<circle cx="559.70" cy="341.25" r="0.79" fill="#fff"/><path d="M558.03,343.68 Q558.03,342.16 559.70,342.16 Q561.37,342.16 561.37,343.50 Z" fill="#fff"/><rect x="557.82" y="343.62" width="3.76" height="0.36" fill="#fff"/>
<circle cx="452.2" cy="353.3" r="2.8" fill="#333333"/>
<circle cx="452.20" cy="352.68" r="0.67" fill="#fff"/><path d="M450.78,354.74 Q450.78,353.45 452.20,353.45 Q453.62,353.45 453.62,354.58 Z" fill="#fff"/><rect x="450.60" y="354.69" width="3.19" height="0.35" fill="#fff"/>
<circle cx="430.8" cy="342.1" r="2" fill="#333333"/>
<circle cx="470" cy="369.7" r="2.8" fill="#333333"/>
<circle cx="470.00" cy="369.08" r="0.67" fill="#fff"/><path d="M468.58,371.14 Q468.58,369.85 470.00,369.85 Q471.42,369.85 471.42,370.98 Z" fill="#fff"/><rect x="468.40" y="371.09" width="3.19" height="0.35" fill="#fff"/>
<circle cx="492.4" cy="375.7" r="3.5" fill="#333333"/>
<circle cx="492.40" cy="374.90" r="0.84" fill="#fff"/><path d="M490.63,377.47 Q490.63,375.86 492.40,375.86 Q494.17,375.86 494.17,377.28 Z" fill="#fff"/><rect x="490.40" y="377.41" width="3.99" height="0.39" fill="#fff"/>
<circle cx="517.1" cy="345.4" r="2.8" fill="#333333"/>
<circle cx="517.10" cy="344.78" r="0.67" fill="#fff"/><path d="M515.68,346.84 Q515.68,345.55 517.10,345.55 Q518.52,345.55 518.52,346.68 Z" fill="#fff"/><rect x="515.50" y="346.79" width="3.19" height="0.35" fill="#fff"/>
<circle cx="513.7" cy="390" r="7" fill="#333333"/>
<circle cx="513.70" cy="388.30" r="1.67" fill="#fff"/><path d="M510.16,393.45 Q510.16,390.23 513.70,390.23 Q517.24,390.23 517.24,393.06 Z" fill="#fff"/><rect x="509.71" y="393.32" width="7.99" height="0.77" fill="#fff"/>
<circle cx="414.4" cy="386.5" r="3.5" fill="#333333"/>
<circle cx="414.40" cy="385.70" r="0.84" fill="#fff"/><path d="M412.63,388.27 Q412.63,386.66 414.40,386.66 Q416.17,386.66 416.17,388.08 Z" fill="#fff"/><rect x="412.40" y="388.21" width="3.99" height="0.39" fill="#fff"/>
<circle cx="476" cy="392.9" r="2" fill="#333333"/>
<circle cx="441.6" cy="397.7" r="1.5" fill="#333333"/>
<circle cx="439.6" cy="404.1" r="1.7" fill="#333333"/>
<circle cx="481.2" cy="289.9" r="1.7" fill="#333333"/>
<circle cx="481.6" cy="296.2" r="1.7" fill="#333333"/>
<circle cx="513.4" cy="318.6" r="1.5" fill="#333333"/>
<circle cx="537.9" cy="344.4" r="1.5" fill="#333333"/>
<circle cx="511.3" cy="360.3" r="1.5" fill="#333333"/>
<circle cx="427.3" cy="364.5" r="1.2" fill="#333333"/>
<circle cx="369.3" cy="302.5" r="1.6" fill="#333333"/>
<circle cx="374.7" cy="305.9" r="1.6" fill="#333333"/>
<circle cx="377" cy="356.5" r="1.6" fill="#333333"/>
<circle cx="383.8" cy="356.5" r="1.6" fill="#333333"/>
<circle cx="571" cy="343" r="1.6" fill="#333333"/>
<circle cx="578" cy="343" r="1.6" fill="#333333"/>
<circle cx="522.9" cy="398.1" r="1.7" fill="#333333"/>
<circle cx="528.5" cy="401.3" r="1.7" fill="#333333"/>
</g>
</svg>
</body>
</html>
